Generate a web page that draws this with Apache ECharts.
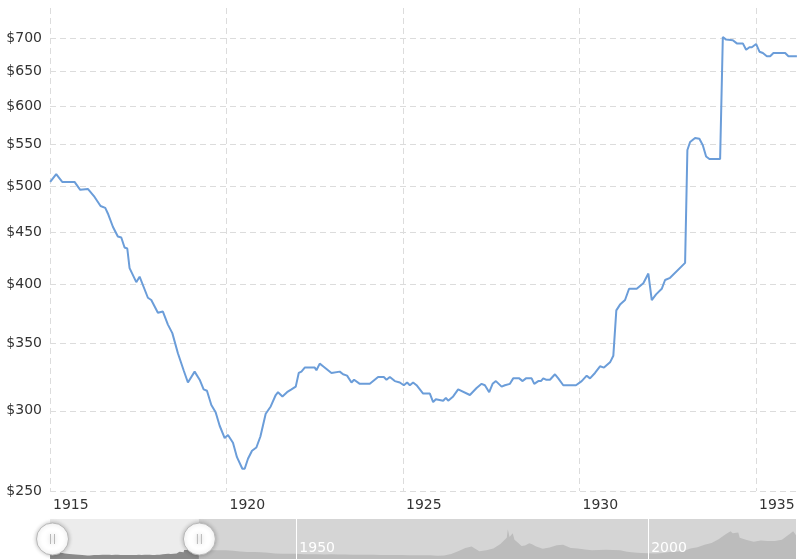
<!DOCTYPE html>
<html><head><meta charset="utf-8">
<script src="https://cdn.jsdelivr.net/npm/echarts@6/dist/echarts.min.js"></script>
<style>html,body{margin:0;padding:0;background:#fff}#c{width:800px;height:559px}</style>
</head><body><div id="c"></div>
<script>
// Inflation-adjusted gold price (visible window)
const years = [1915.006,1915.176,1915.346,1915.695,1915.856,1916.072,1916.262,1916.432,1916.565,1916.639,
1916.781,1916.922,1917.019,1917.112,1917.189,1917.254,1917.444,1917.538,1917.773,1917.869,
1918.056,1918.198,1918.340,1918.465,1918.623,1918.785,1918.907,1919.097,1919.239,1919.352,
1919.446,1919.570,1919.692,1919.806,1919.948,1920.041,1920.183,1920.296,1920.449,1920.515,
1920.608,1920.722,1920.846,1920.960,1921.110,1921.252,1921.394,1921.459,1921.584,1921.714,
1921.839,1921.961,1922.046,1922.122,1922.216,1922.499,1922.547,1922.641,1922.735,1922.973,
1923.208,1923.302,1923.415,1923.540,1923.614,1923.775,1924.059,1924.294,1924.456,1924.532,
1924.626,1924.768,1924.909,1925.023,1925.116,1925.193,1925.286,1925.383,1925.570,1925.760,
1925.853,1925.930,1926.137,1926.214,1926.279,1926.421,1926.562,1926.894,1927.084,1927.226,
1927.319,1927.441,1927.537,1927.631,1927.793,1927.886,1928.028,1928.121,1928.292,1928.388,
1928.482,1928.643,1928.717,1928.831,1928.907,1928.972,1929.049,1929.162,1929.304,1929.398,
1929.539,1929.899,1930.061,1930.203,1930.296,1930.438,1930.580,1930.693,1930.864,1930.957,
1931.042,1931.147,1931.289,1931.403,1931.620,1931.807,1931.949,1932.046,1932.168,1932.329,
1932.423,1932.565,1932.990,1933.055,1933.132,1933.273,1933.395,1933.492,1933.585,1933.679,
1933.982,1934.059,1934.152,1934.342,1934.456,1934.626,1934.719,1934.813,1934.881,1935.003,
1935.097,1935.193,1935.306,1935.400,1935.493,1935.825,1935.918,1936.157];
const prices = [505,514,505,505,496,497,488,478,476,470,
456,446,445,435,434,415,402,407,388,386,
375,376,365,358,342,329,320,328,322,315,
314,304,299,290,282,284,279,270,263,263,
269,274,276,283,298,303,311,313,310,313,
315,317,327,328,331,331,329,334,332,327,
328,326,325,320,322,319,319,324,324,322,
324,321,320,318,320,318,320,318,312,312,
306,308,307,309,307,310,315,311,316,319,
318,313,319,321,317,318,319,323,323,321,
323,323,319,321,321,323,322,322,326,323,
318,318,321,325,323,327,332,331,335,340,
377,382,386,396,396,401,410,386,391,396,
404,406,420,543,553,558,557,549,535,532,
532,702,698,697,692,692,682,686,686,691,
679,677,672,672,677,677,672,672];
// Rest of history (navigator shadow), estimated
const laterYears = [1936.5,1937,1938,1939,1940,1941,1942,1943,1944,1945,1946,1947,1948,1949,1950,
1951,1952,1953,1954,1955,1956,1957,1958,1959,1960,1961,1962,1963,1964,1965,1966,1967,1968,1969,1970,
1971,1972,1973,1974,1974.9,1975,1976,1977,1978,1979,1979.9,1980.05,1980.3,1980.75,1981,1981.5,1982,1982.5,
1983.1,1983.5,1984,1985,1986,1987,1987.9,1988,1989,1990,1991,1992,1993,1994,1995,1996,1997,1998,1999,2000,
2001,2002,2003,2004,2005,2006,2007,2008,2009,2010,2011,2011.7,2012,2012.8,2013,2014,2015,2016,2017,2018,
2019,2020,2020.6,2021];
const laterPrices = [670,660,670,680,675,640,580,545,535,525,480,430,400,405,400,
370,363,360,358,360,355,342,333,330,325,320,317,313,308,303,295,285,300,300,255,
275,380,600,850,960,820,600,670,820,1160,1650,2300,1700,2000,1500,1250,1000,1050,
1230,1150,980,800,900,1070,1100,1000,860,820,730,670,690,710,690,680,570,500,460,450,
420,470,540,590,620,820,920,1110,1240,1540,1920,2150,2000,2050,1650,1470,1340,1440,1400,1390,
1500,1900,2150,1850];
const yTicks = [250,300,350,400,450,500,550,600,650,700];
const xTicks = [1915,1920,1925,1930,1935];
const navTicks = [1950,2000];

const mainData = years.map((y,i)=>[y,prices[i]]);
const allYears = years.concat(laterYears);
const allPrices = prices.concat(laterPrices);
const navData = allYears.map((y,i)=>[y,allPrices[i]]);
const fullMin = allYears[0] < 1915 ? allYears[0] : 1915;
const fullMax = 2021;
const winStart = years[0] < 1915 ? years[0] : 1915;
const winEnd = years[years.length-1];

const FONT = 'DejaVu Sans';
const grid = '#dcdcdc';
const chart = echarts.init(document.getElementById('c'), null, {renderer:'canvas'});
chart.setOption({
  animation:false,
  grid:[
    {left:50,right:3,top:8,bottom:68},
    {left:50,right:4,top:519,height:40,show:true,backgroundColor:'#d5d5d5',borderWidth:0}
  ],
  xAxis:[
    {type:'value',gridIndex:0,min:fullMin,max:fullMax,
     axisLine:{show:false},axisTick:{show:false,customValues:xTicks},
     axisLabel:{customValues:xTicks,color:'#333',fontFamily:FONT,fontSize:14,align:'left',padding:[0,0,0,3],margin:7,
       formatter:v=>String(Math.round(v))},
     splitLine:{show:true,lineStyle:{color:grid,type:[6,4],width:1}}},
    {type:'value',gridIndex:1,min:1915,max:fullMax,z:5,
     axisLine:{show:false},axisTick:{show:false,customValues:navTicks},
     axisLabel:{customValues:navTicks,inside:true,color:'#fff',fontFamily:FONT,fontSize:14,align:'left',padding:[0,0,0,3],margin:4,
       formatter:v=>String(Math.round(v))},
     splitLine:{show:true,lineStyle:{color:'#ffffff',width:1,type:'solid'}}}
  ],
  yAxis:[
    {type:'log',gridIndex:0,min:250,max:750,
     axisLine:{show:false},axisTick:{show:false,customValues:yTicks},
     axisLabel:{customValues:yTicks,color:'#333',fontFamily:FONT,fontSize:14,margin:8,formatter:v=>'$'+Math.round(v)},
     splitLine:{show:true,lineStyle:{color:grid,type:[6,4],width:1}}},
    {type:'value',gridIndex:1,min:0,max:3100,show:false,splitLine:{show:false}}
  ],
  dataZoom:[{
    type:'slider',xAxisIndex:0,filterMode:'none',
    startValue:winStart,endValue:winEnd,
    left:50,right:4,top:519,height:40,
    showDataShadow:false,showDetail:false,brushSelect:false,moveHandleSize:0,
    backgroundColor:'rgba(0,0,0,0)',fillerColor:'rgba(0,0,0,0)',borderColor:'rgba(0,0,0,0)',
    handleIcon:'path://M0,16 A16,16 0 1,0 32,16 A16,16 0 1,0 0,16 Z M14,11 L14,21 M18,11 L18,21',
    handleSize:'80%',
    handleStyle:{color:'#ffffff',borderColor:'#b8b8b8',borderWidth:1,shadowBlur:4,shadowColor:'rgba(0,0,0,0.25)'},
    z:10
  }],
  series:[
    {type:'line',xAxisIndex:0,yAxisIndex:0,data:mainData,showSymbol:false,symbol:'none',
     lineStyle:{color:'#6b9dd9',width:2},itemStyle:{color:'#6b9dd9'},z:3},
    {type:'line',xAxisIndex:1,yAxisIndex:1,data:navData,symbol:'none',silent:true,z:0.5,
     lineStyle:{width:0},areaStyle:{color:'#bcbcbc',opacity:1}},
    {type:'line',xAxisIndex:1,yAxisIndex:1,data:mainData,symbol:'none',silent:true,z:3,
     lineStyle:{width:0},areaStyle:{color:'#8a8a8a',opacity:1},
     markArea:{silent:true,z:1,itemStyle:{color:'#ececec'},data:[[{xAxis:winStart},{xAxis:winEnd}]]}}
  ]
});
</script></body></html>
